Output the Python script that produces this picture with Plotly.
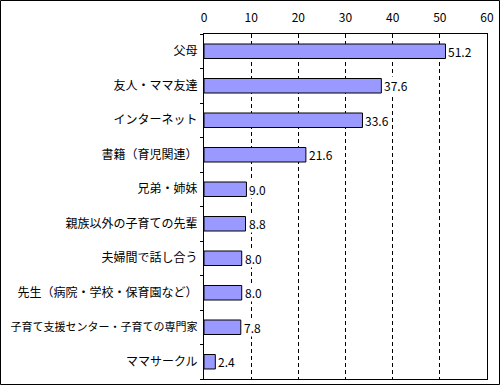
import plotly.graph_objects as go

categories = ["父母", "友人・ママ友達", "インターネット", "書籍（育児関連）", "兄弟・姉妹",
              "親族以外の子育ての先輩", "夫婦間で話し合う", "先生（病院・学校・保育園など）",
              "子育て支援センター・子育ての専門家", "ママサークル"]
values = [51.2, 37.6, 33.6, 21.6, 9.0, 8.8, 8.0, 8.0, 7.8, 2.4]
x_ticks = [0, 10, 20, 30, 40, 50, 60]

W, H = 500, 385
L, R, T, B = 204, 13, 34, 6
pw, ph = W - L - R, H - T - B
FONT = "Noto Sans CJK JP"

# shrink only labels too long to fit the left margin
ticktext = [c if len(c) <= 15 else f'<span style="font-size:11px">{c}</span>'
            for c in categories]

fig = go.Figure(go.Bar(
    y=categories, x=values, orientation="h",
    marker=dict(color="#9999FF", line=dict(color="black", width=1)),
    width=0.42,
))

for c, v in zip(categories, values):
    fig.add_annotation(x=v, y=c, text=f"{v:.1f}", showarrow=False,
                       xanchor="left", xshift=2, bgcolor="white", borderpad=0,
                       font=dict(color="black", size=12, family=FONT))

fig.update_layout(
    width=W, height=H,
    margin=dict(l=L, r=R, t=T, b=B, autoexpand=False),
    paper_bgcolor="white", plot_bgcolor="white",
    font=dict(family=FONT, size=12, color="black"),
    showlegend=False,
    xaxis=dict(side="top", range=[0, 60], tickvals=x_ticks, ticks="",
               showgrid=True, gridcolor="black", griddash="4px,3px", gridwidth=1,
               zeroline=False, showline=True, linecolor="black", mirror=True,
               tickfont=dict(size=12), ticklabelstandoff=6, automargin=False),
    yaxis=dict(autorange="reversed", type="category", ticks="outside",
               tickvals=categories, ticktext=ticktext,
               tickson="boundaries", ticklen=3, tickcolor="black",
               showline=True, linecolor="black", mirror=True, showgrid=False,
               tickfont=dict(size=12), ticklabelstandoff=3, automargin=False),
    shapes=[dict(type="rect", xref="paper", yref="paper",
                 x0=(0.5 - L) / pw, x1=(W - 0.5 - L) / pw,
                 y0=-(B - 0.5) / ph, y1=(H - 0.5 - B) / ph,
                 line=dict(color="black", width=1), layer="above")],
)

fig.write_html("out.html", config={"displayModeBar": False},
               post_script="document.body.style.margin='0';")
